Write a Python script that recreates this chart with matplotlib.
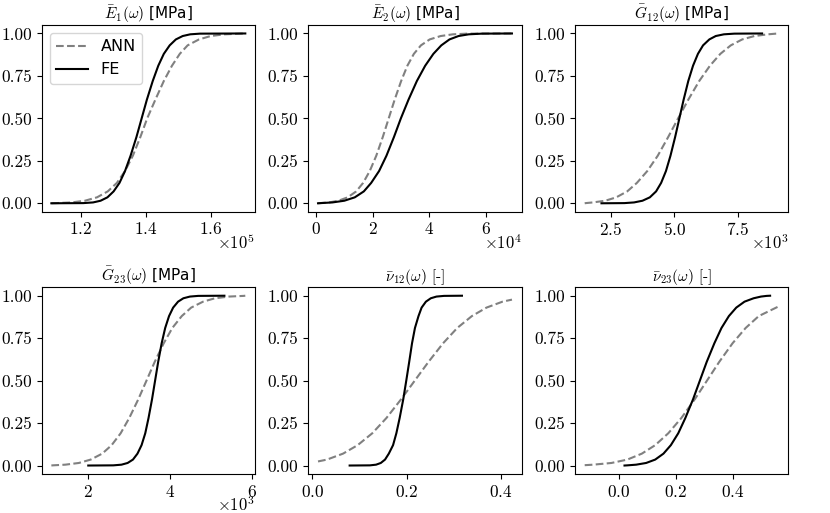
import matplotlib
matplotlib.use("Agg")
import matplotlib.pyplot as plt
from matplotlib.ticker import MaxNLocator

plt.rcParams['font.family'] = 'serif'
plt.rcParams['font.serif'] = ['cmr10', 'DejaVu Serif']
plt.rcParams['mathtext.fontset'] = 'cm'
plt.rcParams['axes.formatter.use_mathtext'] = True
plt.rcParams['axes.formatter.limits'] = [-3, 3]
plt.rcParams['font.size'] = 12.5

# cumulative probability levels shared by most curves
cdf_levels = [0.0, 0.001, 0.005, 0.015, 0.035, 0.07, 0.12, 0.19, 0.28, 0.39, 0.5,
              0.61, 0.72, 0.81, 0.88, 0.93, 0.965, 0.985, 0.995, 0.999, 1.0]

# E1 [MPa]
e1_fe = [1.11e5, 1.208e5, 1.238e5, 1.261e5, 1.282e5, 1.301e5, 1.319e5, 1.336e5, 1.353e5, 1.371e5, 1.387e5,
         1.403e5, 1.421e5, 1.438e5, 1.455e5, 1.473e5, 1.492e5, 1.513e5, 1.536e5, 1.566e5, 1.705e5]
e1_ann = [1.11e5, 1.125e5, 1.172e5, 1.213e5, 1.25e5, 1.283e5, 1.311e5, 1.336e5, 1.36e5, 1.383e5, 1.404e5,
          1.429e5, 1.455e5, 1.48e5, 1.504e5, 1.528e5, 1.563e5, 1.599e5, 1.641e5, 1.691e5, 1.705e5]

# E2 [MPa]
e2_fe = [0.06e4, 0.15e4, 0.57e4, 0.99e4, 1.36e4, 1.68e4, 1.94e4, 2.22e4, 2.48e4, 2.745e4, 2.99e4,
         3.26e4, 3.556e4, 3.85e4, 4.14e4, 4.42e4, 4.71e4, 5.03e4, 5.39e4, 5.86e4, 6.92e4]
e2_ann = [0.06e4, 0.12e4, 0.45e4, 0.78e4, 1.11e4, 1.41e4, 1.655e4, 1.89e4, 2.12e4, 2.35e4, 2.56e4,
          2.77e4, 3.0e4, 3.22e4, 3.45e4, 3.70e4, 4.01e4, 4.40e4, 4.83e4, 5.34e4, 6.92e4]

# G12 [MPa]
g12_fe = [2.14e3, 3.04e3, 3.42e3, 3.75e3, 4.04e3, 4.285e3, 4.483e3, 4.673e3, 4.85e3, 5.033e3, 5.2e3,
          5.367e3, 5.55e3, 5.736e3, 5.929e3, 6.13e3, 6.377e3, 6.63e3, 6.95e3, 7.36e3, 8.45e3]
g12_ann = [1.48e3, 1.52e3, 1.80e3, 2.29e3, 2.72e3, 3.15e3, 3.53e3, 3.94e3, 4.35e3, 4.76e3, 5.15e3,
           5.55e3, 5.98e3, 6.40e3, 6.81e3, 7.22e3, 7.67e3, 8.15e3, 8.68e3, 9.0e3, 9.10e3]

# G23 [MPa]
g23_fe = [2.01e3, 2.62e3, 2.82e3, 2.97e3, 3.10e3, 3.21e3, 3.31e3, 3.40e3, 3.48e3, 3.565e3, 3.64e3,
          3.715e3, 3.80e3, 3.886e3, 3.98e3, 4.08e3, 4.20e3, 4.33e3, 4.49e3, 4.69e3, 5.33e3]
g23_ann = [1.11e3, 1.14e3, 1.45e3, 1.78e3, 2.07e3, 2.35e3, 2.58e3, 2.80e3, 3.01e3, 3.23e3, 3.43e3,
           3.63e3, 3.85e3, 4.06e3, 4.29e3, 4.52e3, 4.81e3, 5.10e3, 5.44e3, 5.80e3, 5.84e3]

# nu12 [-]
nu12_fe = [0.079, 0.122, 0.135, 0.145, 0.154, 0.162, 0.171, 0.178, 0.185, 0.1926, 0.199,
           0.2052, 0.2112, 0.2174, 0.2249, 0.2315, 0.2406, 0.251, 0.263, 0.279, 0.317]
nu12_ann_x = [0.012, 0.031, 0.065, 0.096, 0.127, 0.157, 0.188, 0.217, 0.246, 0.277, 0.307, 0.338, 0.369, 0.403, 0.423]
nu12_ann_y = [0.024, 0.035, 0.07, 0.12, 0.19, 0.28, 0.39, 0.5, 0.61, 0.72, 0.81, 0.88, 0.93, 0.965, 0.977]

# nu23 [-]
nu23_fe = [0.02, 0.03, 0.061, 0.096, 0.128, 0.157, 0.183, 0.209, 0.234, 0.261, 0.285,
           0.309, 0.336, 0.361, 0.387, 0.413, 0.442, 0.474, 0.50, 0.52, 0.532]
nu23_ann_x = [-0.12, -0.09, -0.026, 0.03, 0.081, 0.128, 0.174, 0.22, 0.267, 0.31, 0.353, 0.40, 0.446, 0.492, 0.562]
nu23_ann_y = [0.002, 0.005, 0.015, 0.035, 0.07, 0.12, 0.19, 0.28, 0.39, 0.5, 0.61, 0.72, 0.81, 0.88, 0.937]

titles = [(r'$\bar{E}_1(\omega)$', ' [MPa]'), (r'$\bar{E}_2(\omega)$', ' [MPa]'),
          (r'$\bar{G}_{12}(\omega)$', ' [MPa]'), (r'$\bar{G}_{23}(\omega)$', ' [MPa]'),
          (r'$\bar{\nu}_{12}(\omega)$', ' [-]'), (r'$\bar{\nu}_{23}(\omega)$', ' [-]')]
multipliers = [r'$\times10^{5}$', r'$\times10^{4}$', r'$\times10^{3}$', r'$\times10^{3}$', None, None]

curves = [
    (e1_ann, cdf_levels, e1_fe, cdf_levels),
    (e2_ann, cdf_levels, e2_fe, cdf_levels),
    (g12_ann, cdf_levels, g12_fe, cdf_levels),
    (g23_ann, cdf_levels, g23_fe, cdf_levels),
    (nu12_ann_x, nu12_ann_y, nu12_fe, cdf_levels),
    (nu23_ann_x, nu23_ann_y, nu23_fe, cdf_levels),
]

fig, axs = plt.subplots(2, 3, figsize=(8.3, 5.13), dpi=100)
plt.subplots_adjust(left=0.0502, right=0.9498, bottom=0.076, top=0.9513, wspace=0.25, hspace=0.404)

for ax, (ann_x, ann_y, fe_x, fe_y), (tmath, tunit), mult in zip(axs.flat, curves, titles, multipliers):
    ax.plot(ann_x, ann_y, linestyle='--', color='gray', lw=1.5, label='ANN')
    ax.plot(fe_x, fe_y, linestyle='-', color='black', lw=1.5, label='FE')
    ax.xaxis.set_major_locator(MaxNLocator(nbins=4, steps=[1, 2, 2.5, 5, 10]))
    ax.yaxis.set_major_locator(MaxNLocator(nbins=5, steps=[1, 2, 2.5, 5, 10]))
    ax.yaxis.set_major_formatter(plt.FormatStrFormatter('%.2f'))
    fam = 'DejaVu Sans' if 'MPa' in tunit else 'serif'
    ax.set_title(tmath + tunit, fontsize=11, family=fam, pad=-1.5)
    # draw the scale factor ourselves so it sits where the reference has it
    ax.xaxis.get_offset_text().set_visible(False)
    if mult:
        ax.annotate(mult, xy=(1, 0), xycoords='axes fraction', xytext=(0, -26.5),
                    textcoords='offset points', ha='right', va='baseline', fontsize=12)

axs[0, 0].legend(loc='upper left', prop={'family': 'DejaVu Sans', 'size': 11.5})

plt.savefig('out.png', dpi=100)
plt.close()
